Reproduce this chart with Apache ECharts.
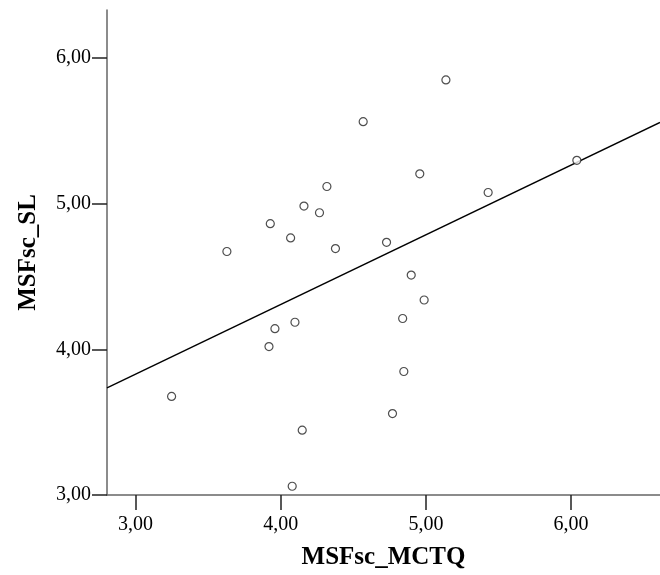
<!DOCTYPE html>
<html>
<head>
<meta charset="utf-8">
<script src="https://cdn.jsdelivr.net/npm/echarts@6/dist/echarts.min.js"></script>
<style>
html,body{margin:0;padding:0;background:#fff;}
#c{width:660px;height:575px;}
</style>
</head>
<body>
<div id="c"></div>
<script>
// Data
const msfscMCTQ = [5.138, 4.568, 4.958, 5.429, 4.318, 4.160, 4.267, 3.928, 4.068, 3.629, 4.377, 4.729,
                   4.899, 6.040, 4.988, 4.840, 3.960, 4.098, 3.919, 3.248, 4.848, 4.770, 4.148, 4.079];
const msfscSL   = [5.850, 5.563, 5.205, 5.077, 5.118, 4.984, 4.938, 4.863, 4.765, 4.672, 4.692, 4.735,
                   4.510, 5.298, 4.339, 4.212, 4.142, 4.186, 4.019, 3.677, 3.848, 3.559, 3.445, 3.060];
const fitX = [2.803, 6.613];
const fitY = [3.735, 5.558];
const xTicks = [3, 4, 5, 6];
const yTicks = [3, 4, 5, 6];
const xTitle = 'MSFsc_MCTQ';
const yTitle = 'MSFsc_SL';

const pts = msfscMCTQ.map((x, i) => [x, msfscSL[i]]);
const fitLine = fitX.map((x, i) => [x, fitY[i]]);
const fmt = v => v.toFixed(2).replace('.', ',');
const FONT = '"Liberation Serif", "DejaVu Serif", serif';

const chart = echarts.init(document.getElementById('c'), null, {renderer: 'canvas'});
chart.setOption({
  animation: false,
  backgroundColor: '#ffffff',
  grid: {left: 107, right: 0, top: 10, bottom: 78, containLabel: false},
  xAxis: {
    type: 'value', min: 2.803, max: 6.613,
    name: xTitle, nameLocation: 'middle', nameGap: 50,
    nameTextStyle: {fontFamily: FONT, fontWeight: 'bold', fontSize: 25, color: '#000'},
    axisLine: {show: true, onZero: false, lineStyle: {color: '#666', width: 1.5}},
    axisTick: {show: true, length: 15, customValues: xTicks, lineStyle: {color: '#222', width: 1.5}},
    axisLabel: {customValues: xTicks, formatter: fmt, margin: 20, fontFamily: FONT, fontSize: 20, color: '#000'},
    splitLine: {show: false}
  },
  yAxis: {
    type: 'value', min: 3, max: 6.33,
    name: yTitle, nameLocation: 'middle', nameGap: 66, nameRotate: 90,
    nameTextStyle: {fontFamily: FONT, fontWeight: 'bold', fontSize: 25, color: '#000'},
    axisLine: {show: true, onZero: false, lineStyle: {color: '#666', width: 1.5}},
    axisTick: {show: true, length: 15, customValues: yTicks, lineStyle: {color: '#222', width: 1.5}},
    axisLabel: {customValues: yTicks, formatter: fmt, margin: 16, fontFamily: FONT, fontSize: 20, color: '#000'},
    splitLine: {show: false}
  },
  series: [
    {
      type: 'line', data: fitLine, showSymbol: false, symbol: 'none',
      lineStyle: {color: '#000', width: 1.4}, z: 2, silent: true
    },
    {
      type: 'scatter', data: pts, symbol: 'circle', symbolSize: 8,
      itemStyle: {color: '#fff', borderColor: '#222', borderWidth: 1.2}, z: 3
    }
  ]
});
</script>
</body>
</html>
